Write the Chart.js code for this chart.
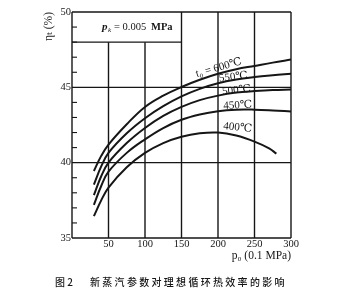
<!DOCTYPE html>
<html>
<head>
<meta charset="utf-8">
<script src="https://cdn.jsdelivr.net/npm/chart.js@4.4.1/dist/chart.umd.min.js"></script>
<style>
  html, body { margin: 0; padding: 0; background: #fff; }
  #wrap { width: 341px; height: 300px; position: relative; }
</style>
</head>
<body>
<div id="wrap"><canvas id="eff"></canvas></div>
<script>
// 主蒸汽压力 p0 (0.1 MPa)
const pressure = [30, 40, 50, 75, 100, 125, 150, 175, 200, 225, 250, 275, 300];
const pressure400 = [30, 40, 50, 75, 100, 125, 150, 175, 200, 225, 250, 270, 280];

// 理想循环热效率 ηt (%)，按初温 t0 分组
const eta600 = [39.45, 40.45, 41.2, 42.55, 43.7, 44.45, 45.02, 45.5, 45.9, 46.2, 46.42, 46.64, 46.84];
const eta550 = [38.55, 39.75, 40.65, 41.95, 42.95, 43.75, 44.4, 44.9, 45.27, 45.52, 45.68, 45.8, 45.9];
const eta500 = [37.85, 39.1, 40.0, 41.3, 42.3, 43.1, 43.7, 44.15, 44.45, 44.65, 44.75, 44.82, 44.85];
const eta450 = [37.2, 38.45, 39.4, 40.65, 41.55, 42.3, 42.85, 43.2, 43.42, 43.52, 43.52, 43.47, 43.4];
const eta400 = [36.45, 37.5, 38.35, 39.7, 40.65, 41.3, 41.72, 41.95, 42.0, 41.8, 41.4, 40.95, 40.6];

const curveNames = ['t₀ = 600℃', '550℃', '500℃', '450℃', '400℃'];

// ticks
const xTicks = [50, 100, 150, 200, 250, 300];
const yTicks = [35, 40, 45, 50];

const toXY = (xs, ys) => xs.map((p, i) => ({x: p, y: ys[i]}));

const INK = '#161616';
const SERIF = '"Liberation Serif", "DejaVu Serif", serif';

// where each curve label sits (data coords) and its tilt
const labelSpots = [
  {p: 201, v: 46.3, rot: -16},
  {p: 221, v: 45.68, rot: -6},
  {p: 225.5, v: 44.8, rot: -6},
  {p: 227, v: 43.8, rot: -3},
  {p: 227, v: 42.33, rot: 6}
];

// frame, grid, inner minor ticks and the p_k box
const frameGrid = {
  id: 'frameGrid',
  beforeDatasetsDraw(chart) {
    const {ctx, scales: {x, y}} = chart;
    const px = v => x.getPixelForValue(v);
    const py = v => y.getPixelForValue(v);
    const seg = (x1, y1, x2, y2) => {
      ctx.beginPath();
      ctx.moveTo(px(x1), py(y1));
      ctx.lineTo(px(x2), py(y2));
      ctx.stroke();
    };
    ctx.save();
    ctx.strokeStyle = INK;
    ctx.lineWidth = 1.4;
    // horizontals
    [35, 40, 45, 50].forEach(v => seg(0, v, 300, v));
    seg(0, 48, 150, 48);
    // verticals
    [0, 150, 200, 250, 300].forEach(p => seg(p, 35, p, 50));
    [50, 100].forEach(p => seg(p, 35, p, 48));
    // minor ticks on the y axis, pointing inward
    ctx.lineWidth = 1.1;
    for (let v = 36; v < 50; v++) {
      if (v % 5 === 0) continue;
      ctx.beginPath();
      ctx.moveTo(px(0), py(v));
      ctx.lineTo(px(0) + 5, py(v));
      ctx.stroke();
    }
    // box text
    ctx.fillStyle = INK;
    ctx.textBaseline = 'middle';
    const bx = px(0) + 30, by = (py(50) + py(48)) / 2 + 0.5;
    ctx.font = 'italic bold 11px ' + SERIF;
    ctx.fillText('p', bx, by);
    ctx.font = 'italic 7px ' + SERIF;
    ctx.fillText('k', bx + 6, by + 3);
    ctx.font = '10.5px ' + SERIF;
    ctx.fillText('= 0.005', bx + 12, by);
    ctx.font = 'bold 10.5px ' + SERIF;
    ctx.fillText('MPa', bx + 49, by);
    ctx.restore();
  },
  afterDatasetsDraw(chart) {
    const {ctx, scales: {x, y}} = chart;
    ctx.save();
    ctx.fillStyle = INK;
    ctx.textAlign = 'center';
    ctx.textBaseline = 'middle';
    ctx.font = '11px ' + SERIF;
    labelSpots.forEach((s, i) => {
      ctx.save();
      ctx.translate(x.getPixelForValue(s.p), y.getPixelForValue(s.v));
      ctx.rotate(s.rot * Math.PI / 180);
      ctx.fillText(curveNames[i], 0, 0);
      ctx.restore();
    });
    // figure caption
    ctx.textAlign = 'left';
    ctx.font = '500 10px "Noto Sans CJK SC"';
    ctx.fillText('图 2', 55, 282);
    ctx.letterSpacing = '2.3px';
    ctx.fillText('新蒸汽参数对理想循环热效率的影响', 90, 282);
    ctx.restore();
  }
};

const curve = (data) => ({
  data: data,
  borderColor: INK,
  borderWidth: 2,
  pointRadius: 0,
  fill: false,
  tension: 0.4
});

new Chart(document.getElementById('eff'), {
  type: 'line',
  data: {
    datasets: [
      curve(toXY(pressure, eta600)),
      curve(toXY(pressure, eta550)),
      curve(toXY(pressure, eta500)),
      curve(toXY(pressure, eta450)),
      curve(toXY(pressure400, eta400))
    ]
  },
  options: {
    responsive: true,
    maintainAspectRatio: false,
    animation: false,
    layout: { padding: { top: 12, right: 50, bottom: 34, left: 0 } },
    plugins: {
      legend: { display: false },
      tooltip: { enabled: false }
    },
    scales: {
      x: {
        type: 'linear',
        min: 0,
        max: 300,
        afterFit: s => { s.height = 28; },
        afterBuildTicks: s => { s.ticks = xTicks.map(v => ({value: v})); },
        grid: { display: false, drawTicks: false },
        border: { display: false },
        ticks: {
          color: INK,
          padding: 0,
          maxRotation: 0,
          font: { family: SERIF, size: 10.5 }
        },
        title: {
          display: true,
          align: 'end',
          text: 'p₀ (0.1 MPa)',
          color: INK,
          padding: { top: 0, bottom: 3 },
          font: { family: SERIF, size: 11.5 }
        }
      },
      y: {
        min: 35,
        max: 50,
        afterFit: s => { s.width = 72; },
        afterBuildTicks: s => { s.ticks = yTicks.map(v => ({value: v})); },
        grid: { display: false, drawTicks: false },
        border: { display: false },
        ticks: {
          color: INK,
          padding: 1,
          font: { family: SERIF, size: 10.5 }
        },
        title: {
          display: true,
          align: 'end',
          text: 'ηₜ (%)',
          color: INK,
          padding: { top: 42, bottom: 0 },
          font: { family: SERIF, size: 11.5 }
        }
      }
    }
  },
  plugins: [frameGrid]
});
</script>
</body>
</html>
